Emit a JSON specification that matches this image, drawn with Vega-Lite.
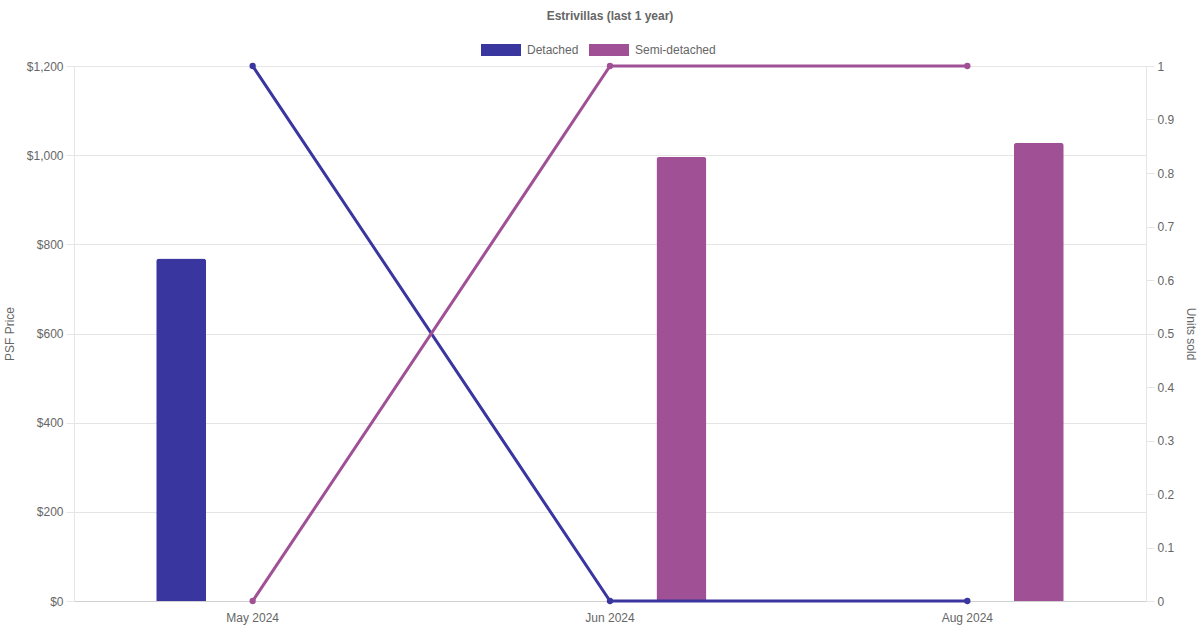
{
  "$schema": "https://vega.github.io/schema/vega-lite/v6.json",
  "width": 1072,
  "height": 535,
  "autosize": {"type": "none"},
  "padding": {"left": 74, "top": 66, "right": 54, "bottom": 29},
  "background": "white",
  "config": {
    "font": "Liberation Sans",
    "view": {"stroke": null},
    "axis": {"labelColor": "#666666", "titleColor": "#666666", "labelFontSize": 12, "titleFontSize": 12, "titleFontWeight": "normal", "labelFont": "Liberation Sans", "titleFont": "Liberation Sans"}
  },
  "title": {"text": "Estrivillas (last 1 year)", "fontSize": 12, "fontWeight": "bold", "color": "#666666", "anchor": "middle", "offset": 7, "font": "Liberation Sans"},
  "data": {
    "values": [
      {"month": "May 2024", "type": "Detached", "psf": 768, "units": 1},
      {"month": "Jun 2024", "type": "Detached", "psf": null, "units": 0},
      {"month": "Aug 2024", "type": "Detached", "psf": null, "units": 0},
      {"month": "May 2024", "type": "Semi-detached", "psf": null, "units": 0},
      {"month": "Jun 2024", "type": "Semi-detached", "psf": 996, "units": 1},
      {"month": "Aug 2024", "type": "Semi-detached", "psf": 1028, "units": 1}
    ]
  },
  "encoding": {
    "x": {
      "field": "month", "type": "nominal", "sort": ["May 2024", "Jun 2024", "Aug 2024"],
      "scale": {"domain": ["May 2024", "Jun 2024", "Aug 2024"], "paddingInner": 0, "paddingOuter": 0},
      "axis": {"title": null, "labelAngle": 0, "ticks": false, "tickSize": 0, "labelPadding": 11, "grid": false, "domainColor": "#d0d0d0", "domainWidth": 1, "labelColor": "#666666"}
    },
    "color": {
      "field": "type", "type": "nominal",
      "scale": {"domain": ["Detached", "Semi-detached"], "range": ["#3a36a0", "#a05195"]},
      "legend": {
        "title": null, "orient": "none", "legendX": 407, "legendY": -36, "direction": "horizontal",
        "symbolType": "M-1,-0.3H1V0.3H-1Z", "symbolSize": 1600, "symbolStrokeWidth": 0, "symbolOpacity": 1,
        "labelFontSize": 12, "labelColor": "#666666", "labelFont": "Liberation Sans",
        "columnPadding": 10, "labelOffset": 6
      }
    }
  },
  "layer": [
    {
      "transform": [{"filter": "datum.psf != null"}],
      "mark": {"type": "bar", "width": 50, "cornerRadiusTopLeft": 3, "cornerRadiusTopRight": 3},
      "encoding": {
        "xOffset": {"field": "type", "type": "nominal", "scale": {"domain": ["Detached", "Semi-detached"], "paddingInner": 0, "paddingOuter": 0.25}},
        "y": {
          "field": "psf", "type": "quantitative",
          "scale": {"domain": [0, 1200], "nice": false},
          "axis": {"title": "PSF Price", "orient": "left", "values": [0, 200, 400, 600, 800, 1000, 1200], "format": "$,.0f", "tickSize": 8, "tickColor": "#e5e5e5", "labelPadding": 3, "gridColor": "#e5e5e5", "domainColor": "#e5e5e5", "titlePadding": 10, "labelColor": "#666666"}
        }
      }
    },
    {
      "mark": {"type": "line", "strokeWidth": 3, "point": {"filled": true, "size": 40, "opacity": 1}},
      "encoding": {
        "y": {
          "field": "units", "type": "quantitative",
          "scale": {"domain": [0, 1], "nice": false},
          "axis": {"title": "Units sold", "orient": "right", "values": [0, 0.1, 0.2, 0.3, 0.4, 0.5, 0.6, 0.7, 0.8, 0.9, 1], "format": ".1~f", "grid": false, "tickSize": 8, "tickColor": "#e5e5e5", "labelPadding": 3, "domainColor": "#e5e5e5", "titlePadding": 10, "labelColor": "#666666", "titleColor": "#666666"}
        }
      }
    }
  ],
  "resolve": {"scale": {"y": "independent"}}
}
